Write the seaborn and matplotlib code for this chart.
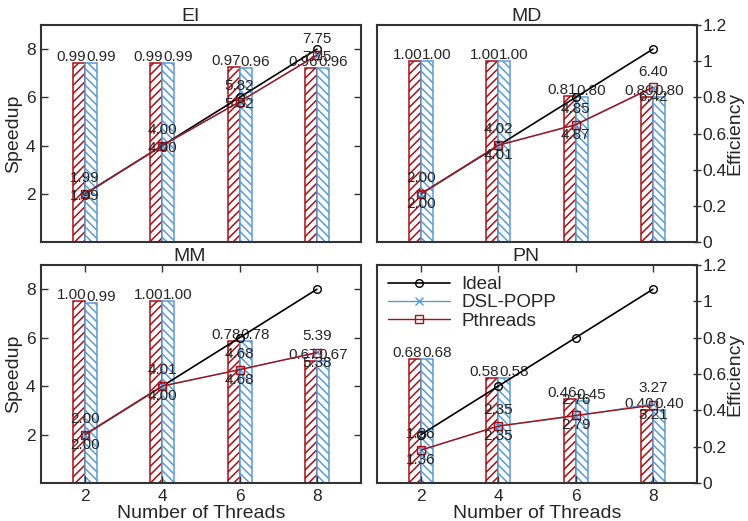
import matplotlib.pyplot as plt
import numpy as np
import seaborn as sns
from matplotlib.ticker import FormatStrFormatter

sns.set_style("white")
plt.rcParams["font.family"] = ["Liberation Sans", "DejaVu Sans"]
plt.rcParams["hatch.linewidth"] = 1.1

# ── Data ───────────────────────────────────────────────────────────────────
THREADS = [2, 4, 6, 8]
IDEAL = [2, 4, 6, 8]
PANELS = ["EI", "MD", "MM", "PN"]

# speedup (lines)
EI_DSL = [1.99, 4.00, 5.82, 7.75]
EI_PTH = [1.99, 4.00, 5.82, 7.75]
MD_DSL = [2.00, 4.02, 4.85, 6.40]
MD_PTH = [2.00, 4.01, 4.87, 6.42]
MM_DSL = [2.00, 4.01, 4.68, 5.39]
MM_PTH = [2.00, 4.00, 4.68, 5.38]
PN_DSL = [1.36, 2.35, 2.76, 3.27]
PN_PTH = [1.36, 2.35, 2.79, 3.21]

# efficiency (bars)
EI_EFF_PTH = [0.99, 0.99, 0.97, 0.96]
EI_EFF_DSL = [0.99, 0.99, 0.96, 0.96]
MD_EFF_PTH = [1.00, 1.00, 0.81, 0.80]
MD_EFF_DSL = [1.00, 1.00, 0.80, 0.80]
MM_EFF_PTH = [1.00, 1.00, 0.78, 0.67]
MM_EFF_DSL = [0.99, 1.00, 0.78, 0.67]
PN_EFF_PTH = [0.68, 0.58, 0.46, 0.40]
PN_EFF_DSL = [0.68, 0.58, 0.45, 0.40]

SPEED = {"EI": (EI_DSL, EI_PTH), "MD": (MD_DSL, MD_PTH),
         "MM": (MM_DSL, MM_PTH), "PN": (PN_DSL, PN_PTH)}
EFF = {"EI": (EI_EFF_DSL, EI_EFF_PTH), "MD": (MD_EFF_DSL, MD_EFF_PTH),
       "MM": (MM_EFF_DSL, MM_EFF_PTH), "PN": (PN_EFF_DSL, PN_EFF_PTH)}

RED = "#a80f14"
BLUE = "#5b9bd5"
SPINE = "#333333"

W, H = 748, 521
RECTS = {
    "EI": [41 / W, 1 - 242 / H, 320 / W, 217 / H],
    "MD": [377 / W, 1 - 242 / H, 320 / W, 217 / H],
    "MM": [41 / W, 1 - 483 / H, 320 / W, 218 / H],
    "PN": [377 / W, 1 - 483 / H, 320 / W, 218 / H],
}
# gap (px) of the lower speedup label under its point
LOW_OFF = {"EI": 2, "MD": 10, "MM": 10, "PN": 10}

fig = plt.figure(figsize=(W / 100, H / 100), dpi=100)
x = np.array(THREADS, dtype=float)
bw = 0.31

for name in PANELS:
    ax = fig.add_axes(RECTS[name])
    axe = ax.twinx()
    ax.set_zorder(axe.get_zorder() + 1)
    ax.patch.set_visible(False)

    eff_dsl, eff_pth = EFF[name]
    axe.bar(x - bw, eff_pth, bw, align="edge", facecolor="white",
            edgecolor=RED, hatch="////", linewidth=1.1)
    axe.bar(x, eff_dsl, bw, align="edge", facecolor="white",
            edgecolor=BLUE, hatch="\\\\\\\\", linewidth=1.1)
    for t, e in zip(THREADS, eff_pth):
        axe.annotate(f"{e:.2f}", (t, e), xytext=(1, 6), textcoords="offset pixels",
                     ha="right", va="center", fontsize=11)
    for t, e in zip(THREADS, eff_dsl):
        axe.annotate(f"{e:.2f}", (t, e), xytext=(1, 6), textcoords="offset pixels",
                     ha="left", va="center", fontsize=11)
    axe.set_ylim(0, 1.2)

    sp_dsl, sp_pth = SPEED[name]
    sns.lineplot(x=THREADS, y=IDEAL, ax=ax, color="black", marker="o",
                 mfc="none", mec="black", mew=1, ms=5.5, lw=1.2)
    sns.lineplot(x=THREADS, y=sp_dsl, ax=ax, color=BLUE, marker="x",
                 mec=BLUE, mew=1, ms=5.5, lw=1.0)
    sns.lineplot(x=THREADS, y=sp_pth, ax=ax, color=RED, marker="s",
                 mfc="none", mec=RED, mew=1, ms=5.5, lw=1.0)
    for t, v in zip(THREADS, sp_dsl):
        ax.annotate(f"{v:.2f}", (t, v), xytext=(0, 16), textcoords="offset pixels",
                    ha="center", va="center", fontsize=11)
    for t, v in zip(THREADS, sp_pth):
        ax.annotate(f"{v:.2f}", (t, v), xytext=(0, -LOW_OFF[name]), textcoords="offset pixels",
                    ha="center", va="center", fontsize=11)

    ax.set_ylim(0, 9)
    ax.set_xlim(0.86, 9.14)
    ax.set_title(name, fontsize=14, x=0.466, pad=3)

    for sp in ax.spines.values():
        sp.set_color(SPINE)
        sp.set_linewidth(1.5)
    for sp in axe.spines.values():
        sp.set_visible(False)

    left = name in ("EI", "MM")
    bottom = name in ("MM", "PN")

    if left:
        ax.set_yticks([2, 4, 6, 8])
        ax.tick_params(axis="y", direction="in", left=True, right=True,
                       labelleft=True, length=5, width=1, color=SPINE,
                       labelsize=12.5, pad=4)
        ax.set_ylabel("Speedup", fontsize=14, labelpad=3)
        axe.set_yticks([])
    else:
        ax.set_yticks([])
        axe.set_yticks(np.arange(0, 1.21, 0.2))
        axe.yaxis.set_major_formatter(FormatStrFormatter("%g"))
        axe.tick_params(axis="y", direction="inout", right=True, labelright=True,
                        length=6, width=1, color=SPINE, labelsize=12.5, pad=1)
        axe.set_ylabel("Efficiency", fontsize=14, labelpad=0)

    if bottom:
        ax.set_xticks(THREADS)
        ax.tick_params(axis="x", direction="in", top=True, bottom=True,
                       length=5, width=1, color=SPINE, labelsize=12.5, pad=4)
        ax.set_xlabel("Number of Threads", fontsize=14, labelpad=1)
    else:
        ax.set_xticks([])

    if name == "PN":
        lines = ax.get_lines()[:3]
        ax.legend(lines, ["Ideal", "DSL-POPP", "Pthreads"], loc="upper left",
                  frameon=False, fontsize=13.5, handlelength=3.3,
                  labelspacing=0.05, handletextpad=0.6,
                  borderaxespad=0.3, borderpad=0.3)

plt.savefig("out.png", dpi=100)
